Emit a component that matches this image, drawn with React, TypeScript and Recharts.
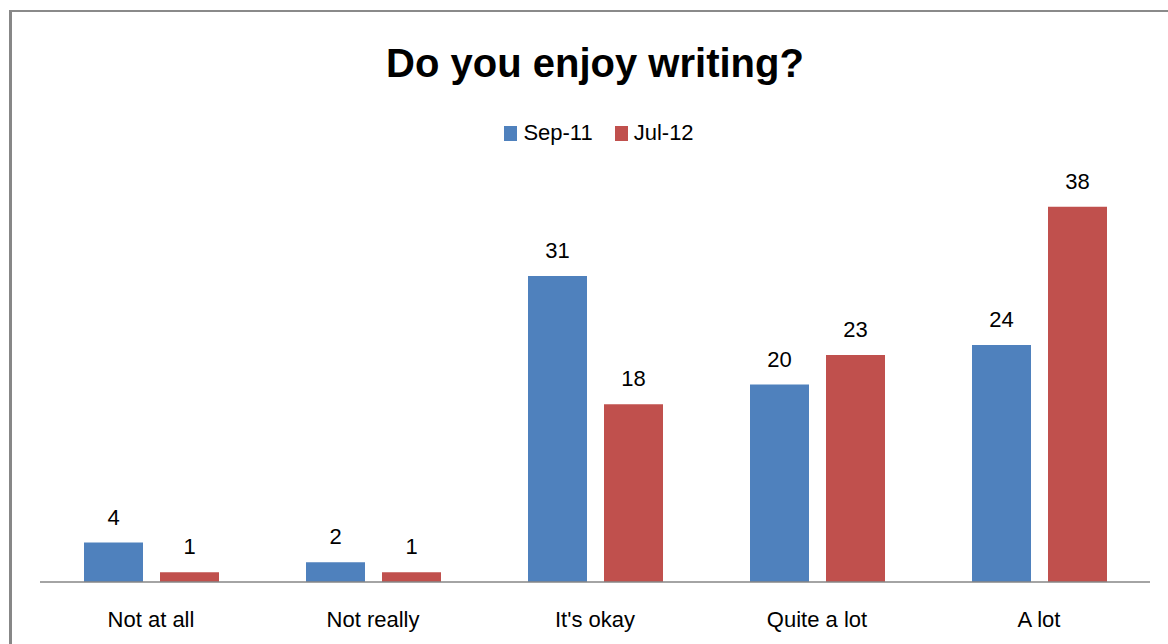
import { Bar, BarChart, LabelList, XAxis, YAxis } from "recharts";

const categories = ["Not at all", "Not really", "It's okay", "Quite a lot", "A lot"];
const sep11 = [4, 2, 31, 20, 24];
const jul12 = [1, 1, 18, 23, 38];
const seriesNames = ["Sep-11", "Jul-12"];
const seriesColors = ["#4F81BD", "#C0504D"];

const chartData = categories.map((label, i) => ({
  label,
  sep11: sep11[i],
  jul12: jul12[i],
}));

const FONT = "'Liberation Sans', Arial, sans-serif";

function ChartLegend() {
  return (
    <div
      style={{
        position: "absolute",
        top: 120,
        left: 0,
        width: 1168,
        display: "flex",
        justifyContent: "center",
        alignItems: "center",
        fontFamily: FONT,
        fontSize: 22,
        color: "#000",
        paddingLeft: 30,
        boxSizing: "border-box",
      }}
    >
      {seriesNames.map((name, i) => (
        <div key={name} style={{ display: "flex", alignItems: "center", marginRight: i === 0 ? 22 : 0 }}>
          <span
            style={{
              display: "inline-block",
              width: 13,
              height: 15,
              background: seriesColors[i],
              marginRight: 6,
            }}
          />
          <span>{name}</span>
        </div>
      ))}
    </div>
  );
}

export default function App() {
  return (
    <div
      style={{
        position: "absolute",
        left: 0,
        top: 0,
        width: 1168,
        height: 644,
        overflow: "hidden",
        background: "#fff",
      }}
    >
      <div
        style={{
          position: "absolute",
          left: 9,
          top: 10,
          width: 1200,
          height: 700,
          borderLeft: "3px solid #878787",
          borderTop: "2px solid #8a8a8a",
        }}
      />
      <div
        style={{
          position: "absolute",
          left: 40,
          width: 1110,
          top: 41,
          textAlign: "center",
          fontFamily: FONT,
          fontWeight: 700,
          fontSize: 40,
          color: "#000",
        }}
      >
        Do you enjoy writing?
      </div>
      <ChartLegend />
      <div style={{ position: "absolute", left: 0, top: 0 }}>
        <BarChart
          width={1168}
          height={644}
          data={chartData}
          margin={{ top: 187, right: 18, left: 40, bottom: 0 }}
          barCategoryGap={44}
          barGap={17}
        >
          <XAxis
            dataKey="label"
            height={62}
            tickLine={false}
            tickMargin={23}
            axisLine={{ stroke: "#868686", strokeWidth: 1.5 }}
            tick={{ fill: "#000", fontSize: 22, fontFamily: FONT }}
          />
          <YAxis hide domain={[0, 40]} />
          <Bar dataKey="sep11" name={seriesNames[0]} fill={seriesColors[0]} isAnimationActive={false}>
            <LabelList
              dataKey="sep11"
              position="top"
              offset={18}
              fill="#000"
              fontSize={22}
              fontFamily={FONT}
            />
          </Bar>
          <Bar dataKey="jul12" name={seriesNames[1]} fill={seriesColors[1]} isAnimationActive={false}>
            <LabelList
              dataKey="jul12"
              position="top"
              offset={18}
              fill="#000"
              fontSize={22}
              fontFamily={FONT}
            />
          </Bar>
        </BarChart>
      </div>
    </div>
  );
}
